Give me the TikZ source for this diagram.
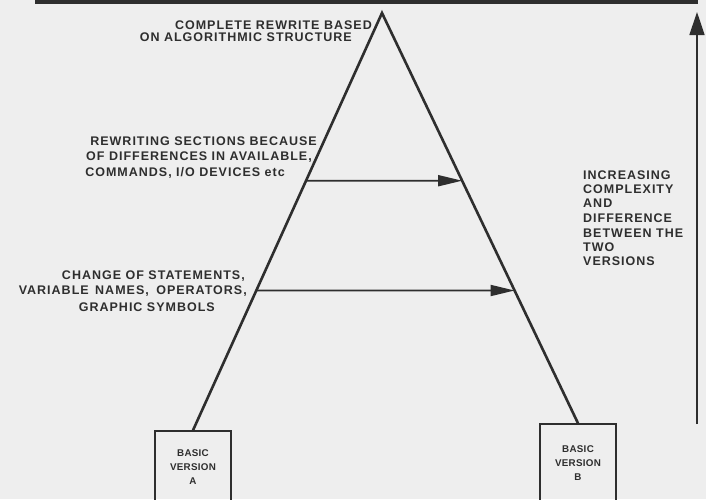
\documentclass[tikz,border=0pt]{standalone}
\usepackage{fontspec}
\setmainfont{Liberation Sans}
\newfontfamily\lblfont[LetterSpace=8]{Liberation Sans Bold}
\newfontfamily\boxfont[LetterSpace=3]{Liberation Sans Bold}
\usetikzlibrary{arrows.meta,calc}
\definecolor{ink}{HTML}{2E2E2E}
\definecolor{paper}{HTML}{EEEEEE}
\begin{document}
\begin{tikzpicture}[x=1pt,y=-1pt,
  lbl/.style={font=\lblfont\fontsize{12.5}{14}\selectfont, text=ink, inner sep=0pt},
  lblR/.style={lbl, anchor=base east},
  lblL/.style={lbl, anchor=base west},
  leg/.style={draw=ink, line width=2.6pt, line join=miter},
  harrow/.style={draw=ink, line width=1.8pt, -{Triangle[length=24pt,width=11pt]}},
  varrow/.style={draw=ink, line width=1.5pt, -{Triangle[length=23pt,width=15pt]}},
  verbox/.style={draw=ink, line width=1.5pt, minimum width=76pt, inner sep=0pt,
    align=center, text=ink, font=\boxfont\fontsize{9.8}{14}\selectfont},
]
\useasboundingbox (0,0) rectangle (706,499);
\clip (0,0) rectangle (706,499);
\fill[paper] (0,0) rectangle (706,499);
\fill[ink] (35,0) rectangle (698,4);

% boxes
\node[verbox, minimum height=72pt] (A) at (193,467) {BASIC\\VERSION\\A};
\node[verbox, minimum height=78pt] (B) at (578,463) {BASIC\\VERSION\\B};

% triangle
\coordinate (apex) at (382,13);
\draw[leg] (A.north) -- (apex) -- (B.north);

% horizontal arrows
\coordinate (h1s) at ($(apex)!0.4019!(A.north)$);
\coordinate (h1e) at ($(apex)!0.4088!(B.north)$);
\coordinate (h2s) at ($(apex)!0.6651!(A.north)$);
\coordinate (h2e) at ($(apex)!0.6764!(B.north)$);
\draw[harrow] (h1s) -- (h1e);
\draw[harrow] (h2s) -- (h2e);

% vertical arrow
\coordinate (vb) at (697,424);
\coordinate (vt) at (697,12);
\draw[varrow] (vb) -- (vt);

% labels
\node[lblR] (t1a) at (372,29) {COMPLETE REWRITE BASED};
\node[lblR] (t1b) at (352,41) {ON ALGORITHMIC STRUCTURE};

\node[lblR] (t2a) at (317,145) {REWRITING SECTIONS BECAUSE};
\node[lblR] (t2b) at (312,160) {OF DIFFERENCES IN AVAILABLE,};
\node[lblR] (t2c) at (285,176) {COMMANDS, I/O DEVICES etc};

\node[lblR] (t3a) at (245,279) {CHANGE OF STATEMENTS,};
\node[lblR] (t3b) at (247,294) {VARIABLE\hspace{2pt} NAMES,\hspace{3pt} OPERATORS,};
\node[lblR] (t3c) at (215,311) {GRAPHIC SYMBOLS};

\node[lblL] (r1) at (583,179) {INCREASING};
\node[lblL] (r2) at (583,193) {COMPLEXITY};
\node[lblL] (r3) at (583,207) {AND};
\node[lblL] (r4) at (583,222) {DIFFERENCE};
\node[lblL] (r5) at (583,237) {BETWEEN THE};
\node[lblL] (r6) at (583,251) {TWO};
\node[lblL] (r7) at (583,265) {VERSIONS};
\end{tikzpicture}
\end{document}
